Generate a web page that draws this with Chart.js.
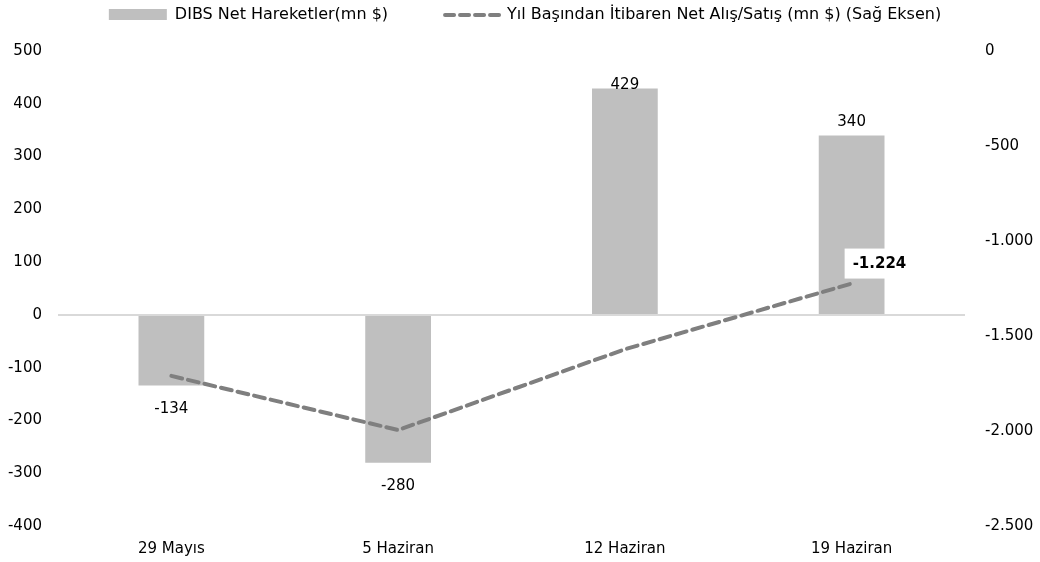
<!DOCTYPE html>
<html>
<head>
<meta charset="utf-8">
<script src="https://cdn.jsdelivr.net/npm/chart.js@4/dist/chart.umd.min.js"></script>
<style>
    html, body { margin: 0; padding: 0; background: #ffffff; }
    #wrap { width: 1040px; height: 562px; }
</style>
</head>
<body>
<div id="wrap"><canvas id="grafik" width="1040" height="562"></canvas></div>
<script>
// veriler
const kategoriler = ["29 Mayıs", "5 Haziran", "12 Haziran", "19 Haziran"]
const dibsNet = [-134, -280, 429, 340]
const yilBasindanNet = [-1710, -1995, -1570, -1224]
const solEksen = { min: -400, max: 500, adim: 100 }
const sagEksen = { min: -2500, max: 0, adim: 500 }

const yazi = '"DejaVu Sans", sans-serif'
const cubukRenk = "#bfbfbf"
const cizgiRenk = "#7f7f7f"

// binlik ayraç nokta (tr)
function trSayi(v) {
    const s = Math.abs(Math.round(v)).toString().replace(/\B(?=(\d{3})+(?!\d))/g, ".")
    return (v < 0 ? "-" : "") + s
}

// lejant - üstte ortada
const lejant = {
    id: "lejant",
    afterDraw(chart) {
        const ctx = chart.ctx
        const ds = chart.data.datasets
        ctx.save()
        ctx.font = "16px " + yazi
        ctx.textBaseline = "middle"
        ctx.fillStyle = "#000"
        const w0 = ctx.measureText(ds[0].label).width
        const w1 = ctx.measureText(ds[1].label).width
        const toplam = 58 + 8 + w0 + 55 + 60 + 4 + w1
        let x = chart.width / 2 + 5 - toplam / 2
        const y = 15
        ctx.fillStyle = cubukRenk
        ctx.fillRect(x, y - 6, 58, 11)
        x += 66
        ctx.fillStyle = "#000"
        ctx.fillText(ds[0].label, x, y)
        x += w0 + 55
        ctx.strokeStyle = cizgiRenk
        ctx.lineWidth = 4
        ctx.lineCap = "round"
        ctx.setLineDash([9, 6])
        ctx.beginPath()
        ctx.moveTo(x + 2, y)
        ctx.lineTo(x + 58, y)
        ctx.stroke()
        ctx.setLineDash([])
        x += 64
        ctx.fillText(ds[1].label, x, y)
        ctx.restore()
    },
}

// çubuk ve çizgi etiketleri
const etiketler = {
    id: "etiketler",
    afterDatasetsDraw(chart) {
        const ctx = chart.ctx
        const alan = chart.chartArea
        ctx.save()
        ctx.textAlign = "center"
        ctx.textBaseline = "middle"
        ctx.fillStyle = "#000"
        ctx.font = "15px " + yazi
        chart.getDatasetMeta(0).data.forEach((bar, i) => {
            const v = dibsNet[i]
            const y = v >= 0 ? Math.max(bar.y - 13, alan.top + 34) : bar.y + 23
            ctx.fillText(trSayi(v), bar.x, y)
        })
        // son nokta etiketi (beyaz kutu)
        const meta = chart.getDatasetMeta(1)
        const son = meta.data[meta.data.length - 1]
        const txt = trSayi(yilBasindanNet[yilBasindanNet.length - 1])
        ctx.font = "bold 15px " + yazi
        const w = ctx.measureText(txt).width + 16
        ctx.fillStyle = "#fff"
        ctx.fillRect(son.x - 7, son.y - 35, w, 30)
        ctx.fillStyle = "#000"
        ctx.fillText(txt, son.x - 7 + w / 2, son.y - 19)
        ctx.restore()
    },
}

new Chart(document.getElementById("grafik"), {
    type: "bar",
    data: {
        labels: kategoriler,
        datasets: [
            {
                label: "DIBS Net Hareketler(mn $)",
                data: dibsNet,
                backgroundColor: cubukRenk,
                borderWidth: 0,
                barPercentage: 0.29,
                categoryPercentage: 1,
                yAxisID: "y",
                order: 2,
            },
            {
                type: "line",
                label: "Yıl Başından İtibaren Net Alış/Satış (mn $) (Sağ Eksen)",
                data: yilBasindanNet,
                borderColor: cizgiRenk,
                backgroundColor: cizgiRenk,
                borderWidth: 4,
                borderDash: [11, 6],
                borderCapStyle: "round",
                pointRadius: 0,
                tension: 0,
                yAxisID: "y1",
                order: 1,   // çizgi çubukların üstünde
            },
        ],
    },
    options: {
        responsive: false,
        animation: false,
        layout: { padding: { left: 0, right: 0, top: 51, bottom: 0 } },
        scales: {
            x: {
                grid: { display: false },
                border: { display: false },
                ticks: { color: "#000", font: { family: yazi, size: 15 }, padding: 6 },
                afterFit: (s) => { s.height = 36 },
            },
            y: {
                position: "left",
                min: solEksen.min,
                max: solEksen.max,
                ticks: { stepSize: solEksen.adim, color: "#000", font: { family: yazi, size: 15 }, padding: 16 },
                grid: {
                    color: (c) => (c.tick && c.tick.value === 0 ? "#d9d9d9" : "transparent"),
                    lineWidth: 2,
                    drawTicks: false,
                },
                border: { display: false },
                afterFit: (s) => { s.width = 58 },
            },
            y1: {
                position: "right",
                min: sagEksen.min,
                max: sagEksen.max,
                ticks: {
                    stepSize: sagEksen.adim,
                    color: "#000",
                    font: { family: yazi, size: 15 },
                    padding: 12,
                    callback: (v) => trSayi(v),
                },
                grid: { display: false },
                border: { display: false },
                afterFit: (s) => { s.width = 75 },
            },
        },
        plugins: {
            legend: { display: false },
            tooltip: { enabled: false },
        },
    },
    plugins: [etiketler, lejant],
})
</script>
</body>
</html>
